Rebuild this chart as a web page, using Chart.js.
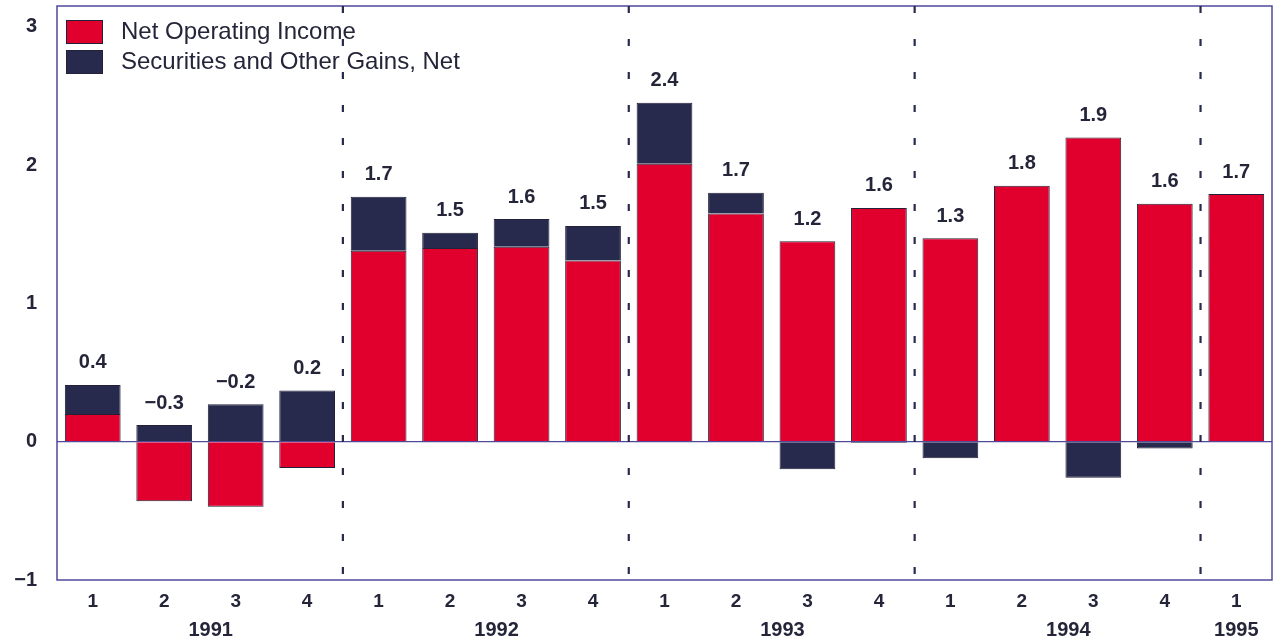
<!DOCTYPE html>
<html><head><meta charset="utf-8">
<script src="https://cdn.jsdelivr.net/npm/chart.js@4.4.1/dist/chart.umd.min.js"></script>
<style>html,body{margin:0;padding:0;background:#fff;} canvas{display:block;}</style>
</head><body>
<canvas id="c" width="1276" height="643"></canvas>
<script>
const quarters = ['1','2','3','4','1','2','3','4','1','2','3','4','1','2','3','4','1'];
const years = ['1991','1992','1993','1994','1995'];
const quartersPerYear = [4,4,4,4,1];
const netOperatingIncome = [0.20,-0.43,-0.47,-0.19, 1.38,1.40,1.41,1.31, 2.01,1.65,1.45,1.69, 1.47,1.85,2.20,1.72, 1.79];
const securitiesGains    = [0.21, 0.12, 0.27, 0.37, 0.39,0.11,0.20,0.25, 0.44,0.15,-0.20,-0.01, -0.12,0.00,-0.26,-0.05, 0.00];
const totalLabels = ['0.4','\u22120.3','\u22120.2','0.2','1.7','1.5','1.6','1.5','2.4','1.7','1.2','1.6','1.3','1.8','1.9','1.6','1.7'];
const yTicks = [-1,0,1,2,3];

const FONT = "'Liberation Sans', Arial, sans-serif";
const RED = '#e1002d', NAVY = '#272a4d', AXIS = '#4f4a9a', TEXT = '#25253a';

// year tick positions derived from quarter counts
const yearTickValues = [];
{ let start = 0; quartersPerYear.forEach(n => { yearTickValues.push(start + (n - 1) / 2 + (n > 1 ? 0.15 : 0)); start += n; }); }

const decor = {
  id: 'decor',
  afterDatasetsDraw(chart) {
    const {ctx, chartArea: a, scales} = chart;
    const x = scales.x, y = scales.y;
    ctx.save();
    // frame
    ctx.strokeStyle = AXIS; ctx.lineWidth = 1.5;
    ctx.strokeRect(a.left, a.top, a.right - a.left, a.bottom - a.top);
    // year separators
    ctx.strokeStyle = NAVY; ctx.lineWidth = 2.2; ctx.setLineDash([7, 26]);
    let idx = 0;
    quartersPerYear.slice(0, -1).forEach(n => {
      idx += n;
      const px = (x.getPixelForValue(idx - 1) + x.getPixelForValue(idx)) / 2;
      ctx.beginPath(); ctx.moveTo(px, a.top); ctx.lineTo(px, a.bottom); ctx.stroke();
    });
    ctx.setLineDash([]);
    // value labels
    ctx.fillStyle = TEXT; ctx.font = 'bold 20px ' + FONT;
    ctx.textAlign = 'center'; ctx.textBaseline = 'middle';
    totalLabels.forEach((t, i) => {
      const top = Math.max(0, netOperatingIncome[i]) + Math.max(0, securitiesGains[i]);
      ctx.fillText(t, x.getPixelForValue(i), y.getPixelForValue(top) - 22);
    });
    // legend
    const ds = chart.data.datasets;
    ctx.font = '24px ' + FONT; ctx.textAlign = 'left';
    ds.forEach((d, k) => {
      const bx = a.left + 9, by = a.top + 14 + k * 30;
      ctx.fillStyle = d.backgroundColor; ctx.fillRect(bx, by, 37, 24);
      ctx.strokeStyle = '#23203a'; ctx.lineWidth = 1; ctx.strokeRect(bx + 0.5, by + 0.5, 36, 23);
      ctx.fillStyle = TEXT; ctx.fillText(d.label, bx + 55, by + 12);
    });
    ctx.restore();
  }
};

new Chart(document.getElementById('c'), {
  type: 'bar',
  data: {
    labels: quarters,
    datasets: [
      {label: 'Net Operating Income', data: netOperatingIncome, backgroundColor: RED, borderColor: '#23203a', borderWidth: 1},
      {label: 'Securities and Other Gains, Net', data: securitiesGains, backgroundColor: NAVY, borderColor: '#23203a', borderWidth: 1}
    ]
  },
  options: {
    responsive: false, animation: false,
    layout: {padding: {left: 0, right: 4, top: 6, bottom: 0}},
    datasets: {bar: {categoryPercentage: 1, barPercentage: 0.78}},
    plugins: {legend: {display: false}, tooltip: {enabled: false}},
    scales: {
      x: {
        stacked: true, position: 'bottom',
        grid: {display: false, drawTicks: false},
        border: {display: false},
        ticks: {padding: 10, color: TEXT, font: {family: FONT, size: 19, weight: 'bold'}, autoSkip: false, maxRotation: 0},
        afterFit(s) { s.height = 34; }
      },
      years: {
        type: 'linear', position: 'bottom', min: -0.5, max: quarters.length - 0.5, offset: false,
        grid: {display: false, drawTicks: false, offset: false}, border: {display: false},
        afterBuildTicks(s) { s.ticks = yearTickValues.map(v => ({value: v})); },
        ticks: {padding: 4, autoSkip: false, maxRotation: 0, color: TEXT, font: {family: FONT, size: 20, weight: 'bold'},
          callback: (v, i) => years[i]},
        afterFit(s) { s.height = 29; s.paddingLeft = 0; s.paddingRight = 0; }
      },
      y: {
        stacked: true, min: -1, max: 3.15,
        afterBuildTicks(s) { s.ticks = yTicks.map(v => ({value: v})); },
        grid: {drawTicks: false, color: c => (c.tick && c.tick.value === 0) ? AXIS : 'rgba(0,0,0,0)', lineWidth: 1.2},
        border: {display: false},
        ticks: {padding: 20, color: TEXT, font: {family: FONT, size: 20, weight: 'bold'},
          callback: v => (v < 0 ? '\u2212' + Math.abs(v) : String(v))},
        afterFit(s) { s.width = 57; s.paddingTop = 0; s.paddingBottom = 0; }
      }
    }
  },
  plugins: [decor]
});
</script>
</body></html>
